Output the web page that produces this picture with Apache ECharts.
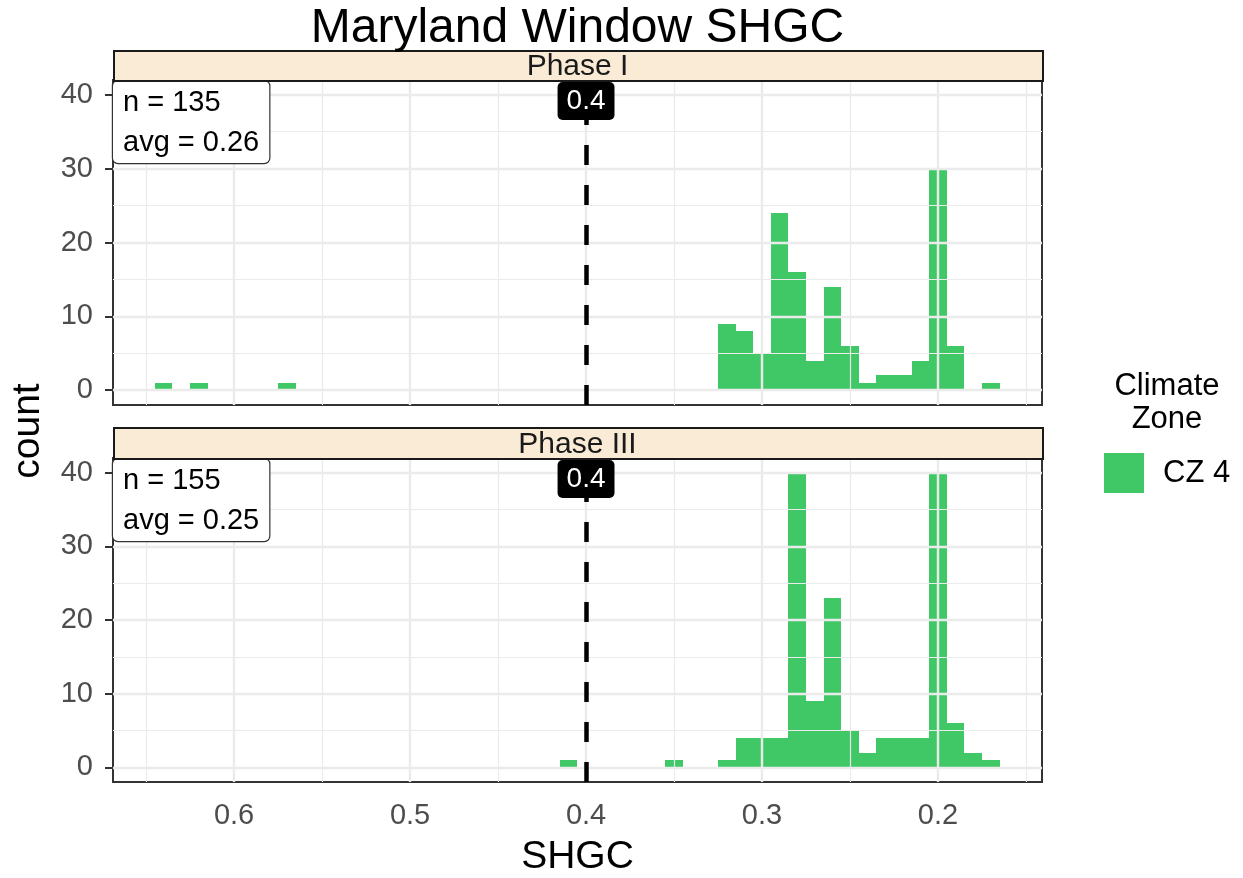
<!DOCTYPE html>
<html><head><meta charset="utf-8">
<script src="https://cdn.jsdelivr.net/npm/echarts@6/dist/echarts.min.js"></script>
<style>html,body{margin:0;padding:0;background:#fff}#c{width:1243px;height:878px}</style>
</head><body><div id="c"></div>
<script>
// ---------- data ----------
const chartTitle = 'Maryland Window SHGC';
const panelNames = ['Phase I', 'Phase III'];
const binWidth = 0.01;
const phaseI_shgc  = [0.64, 0.62, 0.57, 0.32, 0.31, 0.30, 0.29, 0.28, 0.27, 0.26, 0.25, 0.24, 0.23, 0.22, 0.21, 0.20, 0.19, 0.17];
const phaseI_count = [1,    1,    1,    9,    8,    5,    24,   16,   4,    14,   6,    1,    2,    2,    4,    30,   6,    1];
const phaseIII_shgc  = [0.41, 0.35, 0.32, 0.31, 0.30, 0.29, 0.28, 0.27, 0.26, 0.25, 0.24, 0.23, 0.22, 0.21, 0.20, 0.19, 0.18, 0.17];
const phaseIII_count = [1,    1,    1,    4,    4,    4,    40,   9,    23,   5,    2,    4,    4,    4,    40,   6,    2,    1];
const panelN = [135, 155];
const panelAvg = [0.26, 0.25];
const threshold = 0.4;
const xTicks = [0.2, 0.3, 0.4, 0.5, 0.6];
const xMinor = [0.15, 0.25, 0.35, 0.45, 0.55, 0.65];
const yTicks = [0, 10, 20, 30, 40];
const yMinor = [5, 15, 25, 35];
const xRange = [0.1409, 0.6688];
const yRange = [-2, 42];
const seriesName = 'CZ 4';
const legendTitle = 'Climate\nZone';
const xTitle = 'SHGC';
const yTitle = 'count';

// ---------- layout / style ----------
const FONT = "'Liberation Sans', Arial, Helvetica, sans-serif";
const grids = [
  {left: 113, top: 80, width: 929, height: 325},
  {left: 113, top: 458, width: 929, height: 324}
];
const strips = [{top: 50, height: 30}, {top: 427, height: 31}];
const barColor = 'rgba(43,194,87,0.9)';

const panelData = [
  phaseI_shgc.map((v, i) => [v, phaseI_count[i]]),
  phaseIII_shgc.map((v, i) => [v, phaseIII_count[i]])
];

const chart = echarts.init(document.getElementById('c'), null, {renderer: 'canvas'});

const xAxes = grids.map((g, i) => ({
  type: 'value', gridIndex: i, min: xRange[0], max: xRange[1], inverse: true,
  axisLine: {show: false},
  splitLine: {show: false},
  axisTick: {show: i === 1, customValues: xTicks, length: 8, lineStyle: {color: '#333', width: 2}},
  axisLabel: {show: i === 1, customValues: xTicks, formatter: v => v.toFixed(1),
    fontFamily: FONT, fontSize: 29, color: '#4D4D4D', margin: 19}
}));
const yAxes = grids.map((g, i) => ({
  type: 'value', gridIndex: i, min: yRange[0], max: yRange[1],
  axisLine: {show: false},
  splitLine: {show: false},
  axisTick: {show: true, customValues: yTicks, length: 8, lineStyle: {color: '#333', width: 2}},
  axisLabel: {show: true, customValues: yTicks, fontFamily: FONT, fontSize: 29, color: '#4D4D4D', margin: 20}
}));

const series = [];
grids.forEach((g, i) => {
  // grid lines
  const gl = [];
  xMinor.forEach(v => gl.push({xAxis: v, lineStyle: {color: '#EBEBEB', width: 1.2, type: 'solid'}}));
  yMinor.forEach(v => gl.push({yAxis: v, lineStyle: {color: '#EBEBEB', width: 1.2, type: 'solid'}}));
  xTicks.forEach(v => gl.push({xAxis: v, lineStyle: {color: '#EBEBEB', width: 2.4, type: 'solid'}}));
  yTicks.forEach(v => gl.push({yAxis: v, lineStyle: {color: '#EBEBEB', width: 2.4, type: 'solid'}}));
  series.push({
    type: 'line', xAxisIndex: i, yAxisIndex: i, data: [], z: 1, silent: true,
    markLine: {silent: true, symbol: ['none', 'none'], label: {show: false}, animation: false, data: gl}
  });
  // histogram bars
  series.push({
    type: 'custom', name: seriesName, xAxisIndex: i, yAxisIndex: i, z: 3,
    itemStyle: {color: barColor},
    data: panelData[i],
    renderItem: (params, api) => {
      const x = api.value(0), c = api.value(1);
      const p1 = api.coord([x + binWidth / 2, c]);
      const p0 = api.coord([x - binWidth / 2, 0]);
      const xa = Math.round(Math.min(p0[0], p1[0]));
      const xb = Math.round(Math.max(p0[0], p1[0]));
      const yt = Math.round(p1[1]);
      const yb = Math.round(p0[1]);
      return {type: 'rect',
        shape: {x: xa, y: yt, width: xb - xa, height: yb - yt},
        style: {fill: api.visual('color'), stroke: null, lineWidth: 0}};
    }
  });
  // threshold dashed line
  series.push({
    type: 'line', xAxisIndex: i, yAxisIndex: i, data: [], z: 4, silent: true,
    markLine: {silent: true, symbol: ['none', 'none'], label: {show: false}, animation: false,
      data: [{xAxis: threshold, lineStyle: {color: '#000', width: 4.5, type: [20, 20]}}]}
  });
  // threshold label
  series.push({
    type: 'custom', xAxisIndex: i, yAxisIndex: i, z: 5, silent: true,
    data: [[threshold]],
    renderItem: (params, api) => {
      const cs = params.coordSys;
      const p = api.coord([api.value(0), 0]);
      return {type: 'text', x: p[0], y: cs.y + 21,
        style: {text: api.value(0).toFixed(1), fill: '#fff', font: '28px ' + FONT,
          align: 'center', verticalAlign: 'middle', backgroundColor: '#000',
          borderRadius: 5, padding: [5, 9, 5, 9]}};
    }
  });
  // n / avg annotation
  series.push({
    type: 'custom', xAxisIndex: i, yAxisIndex: i, z: 5, silent: true,
    data: [[panelN[i], panelAvg[i]]],
    renderItem: (params, api) => {
      const cs = params.coordSys;
      return {type: 'text', x: cs.x, y: cs.y + 1,
        style: {text: 'n = ' + api.value(0) + '\navg = ' + api.value(1).toFixed(2),
          fill: '#000', font: '29px ' + FONT, lineHeight: 40,
          align: 'left', verticalAlign: 'top', backgroundColor: '#fff',
          borderColor: '#333', borderWidth: 1.2, borderRadius: 5, padding: [2, 10, 0, 10]}};
    }
  });
});

const graphics = [];
strips.forEach((s, i) => {
  graphics.push({type: 'rect', left: 113, top: s.top, z: 10,
    shape: {width: 929, height: s.height},
    style: {fill: '#FAEBD7', stroke: '#1A1A1A', lineWidth: 2}});
  graphics.push({type: 'text', x: 577.5, y: s.top + s.height / 2 + 2, z: 11,
    style: {text: panelNames[i], font: '30px ' + FONT, fill: '#1A1A1A', align: 'center', verticalAlign: 'middle'}});
});
graphics.push({type: 'text', x: 577.5, y: 29, z: 11,
  style: {text: chartTitle, font: '48px ' + FONT, fill: '#000', align: 'center', verticalAlign: 'middle'}});
graphics.push({type: 'text', x: 577.5, y: 857, z: 11,
  style: {text: xTitle, font: '39px ' + FONT, fill: '#000', align: 'center', verticalAlign: 'middle'}});
graphics.push({type: 'text', x: 28, y: 431, rotation: Math.PI / 2, z: 11,
  style: {text: yTitle, font: '39px ' + FONT, fill: '#000', align: 'center', verticalAlign: 'middle'}});
graphics.push({type: 'text', x: 1167, y: 403, z: 11,
  style: {text: legendTitle, font: '31px ' + FONT, fill: '#000', align: 'center', verticalAlign: 'middle', lineHeight: 33}});

chart.setOption({
  animation: false,
  backgroundColor: '#fff',
  grid: grids.map(g => Object.assign({show: true, borderColor: '#333', borderWidth: 2, backgroundColor: '#fff'}, g)),
  xAxis: xAxes,
  yAxis: yAxes,
  legend: {
    data: [{name: seriesName, icon: 'rect'}],
    left: 1104, top: 453, padding: 0, itemWidth: 40, itemHeight: 40, selectedMode: false,
    textStyle: {fontFamily: FONT, fontSize: 31, color: '#000', padding: [0, 0, 0, 14]}
  },
  series: series,
  graphic: graphics
});
</script>
</body></html>
